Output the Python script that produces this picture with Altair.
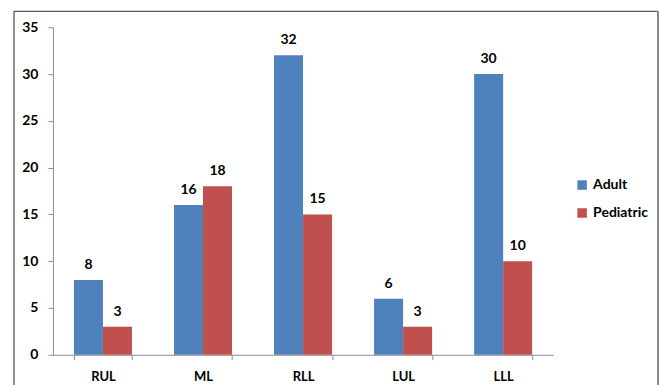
import altair as alt
import pandas as pd

categories = ["RUL", "ML", "RLL", "LUL", "LLL"]
adult = [8, 16, 32, 6, 30]
pediatric = [3, 18, 15, 3, 10]
series = ["Adult", "Pediatric"]
colors = ["#4F81BD", "#C0504D"]

rows = []
for c, a, p in zip(categories, adult, pediatric):
    rows.append({"cat": c, "series": "Adult", "value": a})
    rows.append({"cat": c, "series": "Pediatric", "value": p})
df = pd.DataFrame(rows)

FONT = "Lato"
W, H = 501, 328

x = alt.X("cat:N", sort=categories, title=None,
          scale=alt.Scale(paddingInner=0.42, paddingOuter=0.21),
          axis=alt.Axis(labelAngle=0, labelFont=FONT, labelFontWeight="bold",
                        labelFontSize=13, labelColor="#000", labelPadding=11,
                        domainColor="#8c8c8c", tickColor="#8c8c8c", tickSize=5,
                        tickBand="extent"))
xo = alt.XOffset("series:N", sort=series)
y = alt.Y("value:Q", title=None,
          scale=alt.Scale(domain=[0, 35], nice=False),
          axis=alt.Axis(values=[0, 5, 10, 15, 20, 25, 30, 35], grid=False,
                        labelFont=FONT, labelFontWeight="bold", labelFontSize=14,
                        labelColor="#000", labelPadding=10,
                        domainColor="#8c8c8c", tickColor="#8c8c8c", tickSize=5))
color = alt.Color("series:N", sort=series,
                  scale=alt.Scale(domain=series, range=colors),
                  legend=alt.Legend(title=None, orient="none", legendX=523, legendY=151,
                                    symbolType="square", symbolSize=90,
                                    symbolStrokeWidth=0, rowPadding=14,
                                    labelFont=FONT, labelFontWeight="bold",
                                    labelFontSize=14, labelColor="#000"))

one = pd.DataFrame({"a": [0]})
frame_style = dict(color="#555555", strokeWidth=1.3)
top_line = alt.Chart(one).mark_rule(**frame_style).encode(
    x=alt.value(-39), x2=alt.value(606), y=alt.value(-16))
left_line = alt.Chart(one).mark_rule(**frame_style).encode(
    x=alt.value(-39), y=alt.value(-16), y2=alt.value(380))
right_line = alt.Chart(one).mark_rule(color="#8a8a8a", strokeWidth=2).encode(
    x=alt.value(606), y=alt.value(-16), y2=alt.value(380))

bars = alt.Chart(df).mark_bar().encode(x=x, xOffset=xo, y=y, color=color)
labels = alt.Chart(df).mark_text(
    font=FONT, fontWeight="bold", fontSize=14, color="#000",
    baseline="bottom", dy=-8).encode(x=x, xOffset=xo, y=y, text="value:Q")

chart = alt.layer(top_line, left_line, right_line, bars, labels).properties(
    width=W, height=H,
    padding={"left": 13, "top": 10, "right": 0, "bottom": 0},
).configure(background="white").configure_view(stroke="transparent", strokeWidth=0)

chart.save("out.html", embed_options={"renderer": "svg", "actions": False})
